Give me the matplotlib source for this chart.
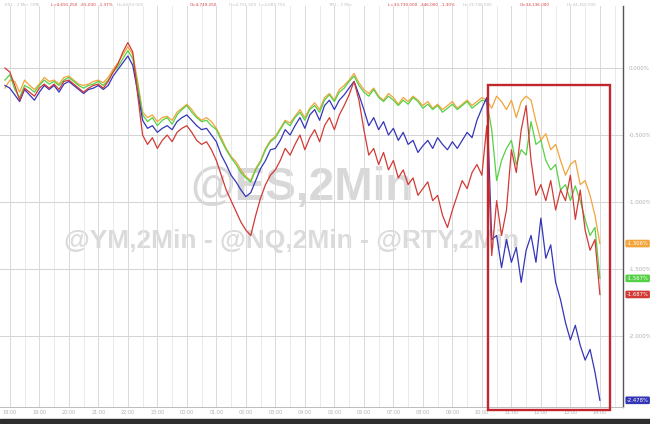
import numpy as np
import pandas as pd
import matplotlib.pyplot as plt
import matplotlib.dates as mdates
import matplotlib.transforms as mtrans
from matplotlib.patches import Rectangle

# 10-minute samples, % change
times = pd.date_range('2024-01-01 17:50', '2024-01-02 14:00', freq='10min')

es = [-0.15, -0.09, -0.10, -0.18, -0.09, -0.13, -0.16, -0.12, -0.07, -0.10,
      -0.09, -0.12, -0.07, -0.06, -0.09, -0.12, -0.13, -0.12, -0.10, -0.09,
      -0.11, -0.07, -0.01, 0.04, 0.10, 0.16, 0.10, -0.10, -0.33, -0.37,
      -0.35, -0.40, -0.37, -0.36, -0.39, -0.33, -0.30, -0.27, -0.31, -0.36,
      -0.39, -0.37, -0.40, -0.45, -0.52, -0.60, -0.66, -0.70, -0.76, -0.81,
      -0.84, -0.75, -0.69, -0.60, -0.54, -0.51, -0.45, -0.39, -0.41, -0.36,
      -0.31, -0.37, -0.30, -0.26, -0.31, -0.22, -0.19, -0.24, -0.16, -0.13,
      -0.09, -0.04, -0.11, -0.16, -0.19, -0.15, -0.21, -0.24, -0.19, -0.22,
      -0.27, -0.22, -0.25, -0.21, -0.24, -0.28, -0.25, -0.30, -0.27, -0.31,
      -0.28, -0.25, -0.30, -0.27, -0.24, -0.28, -0.25, -0.22, -0.24, -0.30,
      -0.21, -0.25, -0.31, -0.24, -0.37, -0.25, -0.21, -0.24, -0.40, -0.54,
      -0.49, -0.61, -0.57, -0.69, -0.80, -0.72, -0.69, -0.87, -0.84, -0.95,
      -1.10, -1.31]

ym = [-0.09, -0.05, -0.16, -0.22, -0.13, -0.15, -0.18, -0.13, -0.09, -0.12,
      -0.10, -0.13, -0.09, -0.07, -0.10, -0.13, -0.15, -0.13, -0.12, -0.10,
      -0.13, -0.09, -0.03, 0.01, 0.07, 0.13, 0.07, -0.13, -0.35, -0.40,
      -0.37, -0.43, -0.39, -0.37, -0.42, -0.35, -0.31, -0.28, -0.33, -0.37,
      -0.40, -0.39, -0.43, -0.46, -0.54, -0.61, -0.67, -0.72, -0.78, -0.82,
      -0.85, -0.76, -0.70, -0.61, -0.55, -0.52, -0.46, -0.40, -0.43, -0.37,
      -0.33, -0.39, -0.31, -0.28, -0.33, -0.24, -0.20, -0.25, -0.18, -0.15,
      -0.10, -0.06, -0.13, -0.18, -0.21, -0.16, -0.22, -0.25, -0.21, -0.24,
      -0.28, -0.24, -0.27, -0.22, -0.25, -0.30, -0.27, -0.31, -0.28, -0.33,
      -0.30, -0.27, -0.31, -0.28, -0.25, -0.30, -0.27, -0.24, -0.25, -0.46,
      -0.84, -0.69, -0.60, -0.54, -0.72, -0.61, -0.65, -0.40, -0.57, -0.54,
      -0.69, -0.76, -0.72, -0.91, -0.87, -0.99, -0.88, -0.99, -1.13, -1.25,
      -1.19, -1.57]

nq = [-0.13, -0.15, -0.20, -0.25, -0.16, -0.20, -0.24, -0.18, -0.13, -0.16,
      -0.13, -0.18, -0.12, -0.10, -0.13, -0.16, -0.19, -0.16, -0.15, -0.13,
      -0.16, -0.13, -0.06, -0.01, 0.04, 0.09, 0.02, -0.18, -0.39, -0.45,
      -0.43, -0.48, -0.45, -0.43, -0.46, -0.40, -0.37, -0.35, -0.39, -0.43,
      -0.46, -0.45, -0.50, -0.55, -0.65, -0.72, -0.80, -0.85, -0.91, -0.96,
      -0.93, -0.84, -0.75, -0.69, -0.61, -0.60, -0.54, -0.46, -0.50, -0.43,
      -0.37, -0.45, -0.35, -0.31, -0.39, -0.28, -0.24, -0.31, -0.24, -0.20,
      -0.15, -0.10, -0.20, -0.31, -0.43, -0.37, -0.46, -0.40, -0.50, -0.45,
      -0.54, -0.48, -0.57, -0.54, -0.63, -0.58, -0.54, -0.60, -0.52, -0.57,
      -0.61, -0.55, -0.60, -0.54, -0.48, -0.52, -0.39, -0.30, -0.22, -1.28,
      -1.25, -1.49, -1.28, -1.45, -1.34, -1.60, -1.36, -1.25, -1.45, -1.12,
      -1.42, -1.32, -1.60, -1.73, -1.90, -2.03, -1.92, -2.07, -2.18, -2.10,
      -2.27, -2.48]

rty = [0.00, -0.03, -0.13, -0.24, -0.15, -0.18, -0.21, -0.15, -0.12, -0.15,
       -0.12, -0.16, -0.10, -0.09, -0.12, -0.15, -0.18, -0.15, -0.13, -0.12,
       -0.15, -0.10, -0.03, 0.03, 0.12, 0.19, 0.12, -0.20, -0.50, -0.57,
       -0.52, -0.60, -0.54, -0.50, -0.55, -0.48, -0.45, -0.43, -0.48, -0.54,
       -0.57, -0.55, -0.61, -0.69, -0.80, -0.91, -0.99, -1.07, -1.15, -1.21,
       -1.25, -1.10, -0.97, -0.87, -0.80, -0.76, -0.69, -0.60, -0.65, -0.57,
       -0.50, -0.61, -0.52, -0.46, -0.55, -0.43, -0.37, -0.46, -0.35, -0.28,
       -0.20, -0.10, -0.24, -0.46, -0.65, -0.60, -0.72, -0.63, -0.76, -0.69,
       -0.82, -0.76, -0.87, -0.82, -0.95, -0.90, -0.85, -0.99, -0.95, -1.10,
       -1.19, -1.06, -0.95, -0.84, -0.90, -0.78, -0.72, -0.80, -0.43, -1.40,
       -0.99, -1.25, -1.06, -0.61, -0.78, -0.46, -0.28, -0.69, -0.95, -0.87,
       -0.99, -0.84, -1.06, -0.91, -0.99, -0.80, -1.13, -0.91, -1.21, -1.36,
       -1.28, -1.69]

end_labels = ['-1.306%', '-1.567%', '-1.687%', '-2.478%']
y_ticks = [0.0, -0.5, -1.0, -1.5, -2.0]
y_ticklabels = ['0.000%', '-0.500%', '-1.000%', '-1.500%', '-2.000%']

c_orange = '#f2a43a'
c_green = '#55d145'
c_red = '#d23a36'
c_blue = '#3535b8'

fig = plt.figure(figsize=(6.5, 4.24), dpi=100)
fig.patch.set_facecolor('white')
ax = fig.add_axes([0.0, 1 - 407 / 424, 623 / 650, 401 / 424])

t0 = pd.Timestamp('2024-01-01 17:40')
t1 = pd.Timestamp('2024-01-02 14:47')
ax.set_xlim(t0, t1)
ax.set_ylim(-2.53, 0.463)

# grid
ax.xaxis.set_major_locator(mdates.HourLocator())
ax.xaxis.set_minor_locator(mdates.MinuteLocator(byminute=[30]))
ax.xaxis.set_major_formatter(mdates.DateFormatter('%H:%M'))
ax.grid(which='major', axis='x', color='#d9d9d9', lw=0.7)
ax.grid(which='minor', axis='x', color='#e6e6e6', lw=0.6)
ax.set_yticks(y_ticks)
ax.set_yticklabels(y_ticklabels)
ax.grid(which='major', axis='y', color='#d4d4d4', lw=0.7)
ax.yaxis.tick_right()
ax.tick_params(axis='y', length=0, pad=4, labelsize=4, labelcolor='#b0b0b0')
ax.tick_params(axis='x', which='both', length=0, pad=2, labelsize=3.5, labelcolor='#b0b0b0')
for s in ['top', 'left']:
    ax.spines[s].set_visible(False)
ax.spines['right'].set_color('#555555')
ax.spines['right'].set_linewidth(1.0)
ax.spines['bottom'].set_color('#bbbbbb')
ax.spines['bottom'].set_linewidth(0.7)

# watermark
ax.text(0.485, 0.545, '@ES,2Min', transform=ax.transAxes, ha='center', va='center',
        fontsize=33, fontweight='bold', family='Liberation Sans', color='#c8c8c8', alpha=0.7, zorder=1)
ax.text(0.468, 0.415, '@YM,2Min - @NQ,2Min - @RTY,2Min', transform=ax.transAxes,
        ha='center', va='center', fontsize=19, fontweight='bold', family='Liberation Sans',
        color='#cccccc', alpha=0.7, zorder=1)

# lines
ax.plot(times, es, color=c_orange, lw=0.9, zorder=3)
ax.plot(times, ym, color=c_green, lw=0.9, zorder=4)
ax.plot(times, nq, color=c_blue, lw=0.9, zorder=5)
ax.plot(times, rty, color=c_red, lw=0.9, zorder=6)

# end value tags on the right axis
trans = mtrans.blended_transform_factory(ax.transAxes, ax.transData)
for val, lab, col in zip([es[-1], ym[-1], rty[-1], nq[-1]], end_labels,
                         [c_orange, c_green, c_red, c_blue]):
    ax.text(1.006, val, lab, transform=trans, va='center', ha='left', fontsize=3.8,
            color='white', clip_on=False,
            bbox=dict(boxstyle='round,pad=0.25', fc=col, ec='none'))

# red highlight box
x0 = mdates.date2num(pd.Timestamp('2024-01-02 10:12'))
x1 = mdates.date2num(pd.Timestamp('2024-01-02 14:20'))
box = Rectangle((x0, -2.55), x1 - x0, 2.42, fill=False, ec='#c1272d', lw=1.7,
                clip_on=False, zorder=8)
ax.add_patch(box)

# header strip
header = [
    (0.008, 'ES1 - 2 Min  CME', '#c0c0c0'),
    (0.078, 'L=4,691.250  -65.000  -1.37%', '#d04040'),
    (0.180, 'H=4,693.000', '#c0c0c0'),
    (0.292, 'O=4,749.250', '#d04040'),
    (0.352, 'H=4,751.500  L=4,689.750', '#c0c0c0'),
    (0.505, 'YM1 - 2 Min', '#c0c0c0'),
    (0.597, 'L=33,730.000  -446.000  -1.30%', '#d04040'),
    (0.712, 'H=33,748.000', '#c0c0c0'),
    (0.800, 'O=34,136.000', '#d04040'),
    (0.872, 'H=34,160.000', '#c0c0c0'),
]
for x, s, col in header:
    fig.text(x, 1 - 5 / 424, s, fontsize=3.0, color=col, va='center', ha='left')

# dark strip at the very bottom
fig.patches.append(Rectangle((0, 0), 1, 5 / 424, transform=fig.transFigure,
                             color='#2e2e2e', zorder=0))

fig.savefig('out.png', dpi=100)
